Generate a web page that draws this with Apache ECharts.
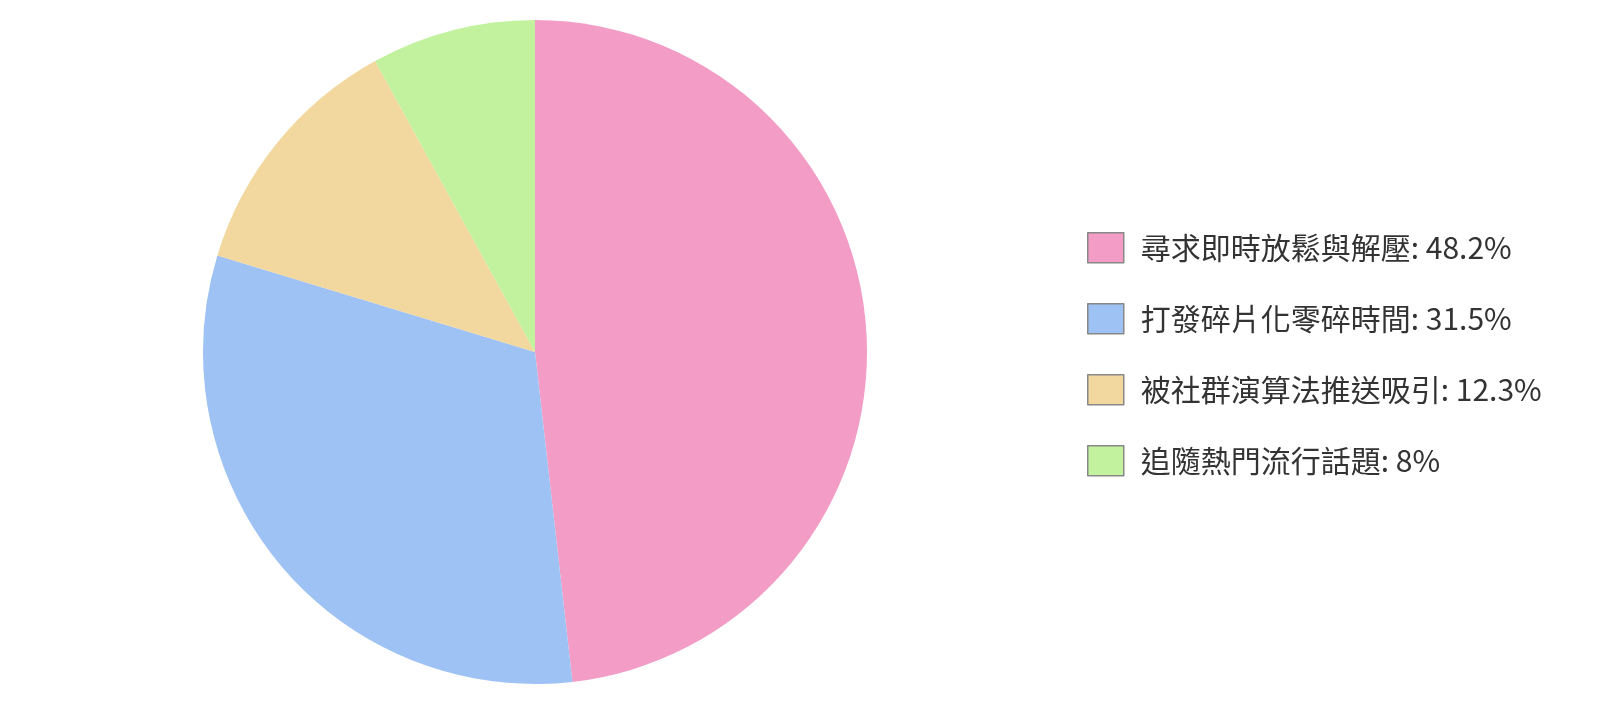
<!DOCTYPE html>
<html><head><meta charset="utf-8">
<script src="https://cdn.jsdelivr.net/npm/echarts@6/dist/echarts.min.js"></script>
<style>html,body{margin:0;padding:0;background:#fff}#c{width:1600px;height:705px}</style>
</head><body><div id="c"></div>
<script>
const categories = ['尋求即時放鬆與解壓','打發碎片化零碎時間','被社群演算法推送吸引','追隨熱門流行話題'];
const values = [48.2, 31.5, 12.3, 8];
const colors = ['#F29CC6','#9EC2F4','#F2D89E','#C2F29E'];
const chart = echarts.init(document.getElementById('c'));
chart.setOption({
  animation:false,
  color: colors,
  legend:{
    orient:'vertical', left:1087, top:232, padding:0,
    itemWidth:36, itemHeight:30, itemGap:39.5,
    icon:'rect',
    itemStyle:{borderColor:'#888', borderWidth:1.5},
    textStyle:{fontSize:30, lineHeight:30, color:'#333', fontFamily:'Noto Sans CJK TC', padding:[0,0,0,12]},
    formatter: function(name){ const i = categories.indexOf(name); return name + ': ' + values[i] + '%'; },
    selectedMode:false
  },
  series:[{
    type:'pie', center:[535,352], radius:332, startAngle:90,
    label:{show:false}, labelLine:{show:false},
    emphasis:{disabled:true},
    data: categories.map((n,i)=>({name:n, value:values[i]}))
  }]
});
</script></body></html>
